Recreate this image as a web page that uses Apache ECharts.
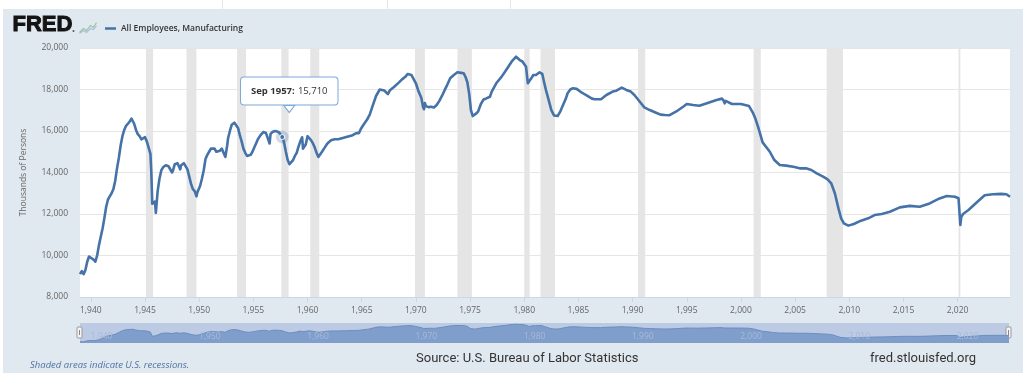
<!DOCTYPE html>
<html><head><meta charset="utf-8">
<script src="https://cdn.jsdelivr.net/npm/echarts@6/dist/echarts.min.js"></script>
<style>html,body{margin:0;padding:0;background:#fff}#c{width:1023px;height:373px}</style>
</head><body><div id="c"></div>
<script>
const seriesName = 'All Employees, Manufacturing';
const dates = [
'1939-01','1939-03','1939-05','1939-07','1939-09','1939-11','1940-01','1940-04','1940-06','1940-08','1940-10','1940-12',
'1941-02','1941-04','1941-06','1941-08','1941-10','1941-12','1942-02','1942-04','1942-06','1942-08','1942-10','1942-12',
'1943-02','1943-04','1943-06','1943-08','1943-10','1943-11','1944-01','1944-03','1944-05','1944-07','1944-09','1944-11',
'1945-01','1945-03','1945-05','1945-07','1945-08','1945-09','1945-10','1945-11','1945-12','1946-01','1946-02','1946-03',
'1946-05','1946-07','1946-09','1946-12','1947-03','1947-05','1947-07','1947-08','1947-10','1948-01','1948-03','1948-04',
'1948-05','1948-08','1948-10','1948-12','1949-02','1949-04','1949-06','1949-08','1949-10','1949-11','1949-12','1950-02',
'1950-04','1950-06','1950-08','1950-10','1950-12','1951-02','1951-04','1951-06','1951-08','1951-10','1951-12','1952-02',
'1952-04','1952-06','1952-07','1952-08','1952-09','1952-11','1953-01','1953-04','1953-06','1953-08','1953-10','1953-12',
'1954-02','1954-04','1954-06','1954-08','1954-10','1954-12','1955-02','1955-04','1955-06','1955-09','1955-12','1956-03',
'1956-05','1956-07','1956-08','1956-10','1957-01','1957-03','1957-05','1957-07','1957-09','1957-11','1958-01','1958-03',
'1958-05','1958-07','1958-09','1958-11','1959-01','1959-03','1959-05','1959-07','1959-08','1959-09','1959-11','1960-01',
'1960-03','1960-05','1960-07','1960-09','1960-11','1961-01','1961-03','1961-05','1961-08','1961-11','1962-03','1962-07',
'1962-11','1963-03','1963-07','1963-11','1964-03','1964-07','1964-10','1964-12','1965-03','1965-07','1965-10','1966-01',
'1966-05','1966-09','1966-11','1967-02','1967-06','1967-08','1967-10','1968-01','1968-06','1968-10','1969-01','1969-04',
'1969-06','1969-08','1969-10','1970-01','1970-04','1970-07','1970-09','1970-10','1970-11','1970-12','1971-03','1971-06',
'1971-09','1971-12','1972-03','1972-06','1972-09','1972-12','1973-03','1973-07','1973-11','1974-03','1974-06','1974-08',
'1974-10','1974-12','1975-02','1975-04','1975-06','1975-08','1975-10','1976-01','1976-04','1976-07','1976-09','1976-11',
'1977-01','1977-06','1977-12','1978-05','1978-11','1979-04','1979-06','1979-08','1979-11','1980-01','1980-03','1980-05',
'1980-07','1980-09','1980-11','1981-02','1981-06','1981-09','1981-11','1982-01','1982-04','1982-07','1982-10','1982-12',
'1983-02','1983-05','1983-08','1983-11','1984-01','1984-04','1984-07','1984-11','1985-03','1985-06','1985-11','1986-04',
'1986-07','1987-02','1987-08','1988-03','1988-07','1989-01','1989-06','1989-11','1990-03','1990-09','1991-02','1991-08',
'1992-03','1992-08','1993-01','1993-06','1994-01','1994-09','1995-01','1995-08','1996-03','1997-01','1997-10','1998-04',
'1998-06','1998-07','1998-08','1999-03','2000-01','2000-10','2001-02','2001-05','2001-08','2002-01','2002-09','2003-02',
'2003-08','2004-03','2004-11','2005-06','2006-01','2006-07','2007-01','2007-08','2008-01','2008-05','2008-09','2009-01',
'2009-04','2009-07','2009-12','2010-06','2011-02','2011-10','2012-05','2013-01','2013-10','2014-09','2015-08','2016-07',
'2017-06','2018-05','2019-01','2019-10','2020-02','2020-03','2020-04','2020-05','2020-07','2021-01','2021-07','2022-02',
'2022-07','2023-04','2024-01','2024-07','2024-11'
];
const values = [
9100,9250,9100,9300,9700,9950,9900,9800,9700,10000,10500,10900,
11300,11800,12350,12700,12850,13000,13200,13600,14200,14700,15300,15750,
16050,16250,16350,16450,16600,16620,16350,16050,15850,15750,15600,15650,
15700,15500,15200,14900,14000,12500,12450,12550,12600,12050,12000,13100,
13700,14100,14250,14350,14300,14250,14000,14100,14400,14450,14250,14150,
14350,14450,14400,14150,13800,13450,13200,13100,12850,13050,13050,13350,
13700,14100,14650,14850,15000,15150,15200,15150,15000,14950,15050,15150,
15200,14750,14700,15300,15650,16000,16300,16400,16350,16150,15800,15500,
15150,14950,14800,14750,14850,15000,15200,15400,15600,15800,15950,15900,
15850,15400,15850,15950,16000,16050,15950,15850,15710,15450,15000,14600,
14400,14450,14600,14800,14950,15250,15500,15700,15150,15100,15350,15750,
15650,15550,15400,15200,14950,14750,14800,15000,15200,15400,15550,15600,
15600,15650,15700,15750,15800,15900,15900,16100,16300,16550,16800,17200,
17700,18000,18060,17950,17780,17950,17900,18130,18330,18500,18600,18750,
18820,18700,18650,18300,17900,17600,17150,17050,17350,17200,17150,17170,
17130,17250,17450,17700,17980,18250,18540,18700,18830,18800,18780,18600,
18350,17800,17000,16720,16690,16850,16950,17300,17520,17570,17480,17650,
17900,18300,18620,18940,19340,19580,19560,19420,19350,19290,19100,18300,
18250,18550,18700,18700,18830,18750,18350,17980,17500,17010,16750,16700,
16720,16950,17250,17550,17820,18000,18060,18030,17900,17820,17690,17560,
17530,17530,17735,17900,17940,18090,17980,17900,17735,17410,17140,17010,
16880,16790,16770,16760,16930,17170,17300,17250,17220,17360,17490,17560,
17450,17330,17450,17300,17300,17200,16900,16600,16200,15450,15000,14600,
14360,14330,14280,14200,14200,14120,13960,13800,13670,13480,13000,12270,
11790,11550,11440,11520,11680,11790,11950,12000,12110,12320,12390,12350,
12510,12750,12870,12830,12760,12700,11470,11850,12000,12190,12430,12710,
12900,12950,12970,12950,12830
];
const recessionStarts = ['1945-02','1948-11','1953-07','1957-08','1960-04','1969-12','1973-11','1980-01','1981-07','1990-07','2001-03','2007-12','2020-02'];
const recessionEnds   = ['1945-10','1949-10','1954-05','1958-04','1961-02','1970-11','1975-03','1980-07','1982-11','1991-03','2001-11','2009-06','2020-04'];
const xTickYears = [1940,1945,1950,1955,1960,1965,1970,1975,1980,1985,1990,1995,2000,2005,2010,2015,2020];
const navYears = [1940,1950,1960,1970,1980,1990,2000,2010,2020];
const yMin = 8000, yMax = 20000, yStep = 2000;
const tipDate = '1957-09';

const MONTHS = ['Jan','Feb','Mar','Apr','May','Jun','Jul','Aug','Sep','Oct','Nov','Dec'];
function toYear(s){ const p = s.split('-').map(Number); return p[0] + (p[1]-1)/12; }
function fmtDate(s){ const p = s.split('-').map(Number); return MONTHS[p[1]-1] + ' ' + p[0]; }
const pts = dates.map((d,i) => [toYear(d), values[i]]);
const xMin = pts[0][0], xMax = pts[pts.length-1][0];
const tipIdx = dates.indexOf(tipDate);
const tipPt = pts[tipIdx];
const FONT = '"Open Sans", "DejaVu Sans", sans-serif';
const LINE = '#4572a7';

const chart = echarts.init(document.getElementById('c'), null, {renderer:'canvas'});
chart.setOption({
  animation: false,
  backgroundColor: '#e1e9f0',
  textStyle: {fontFamily: FONT},
  grid: [
    {left: 80, right: 13, top: 48, bottom: 76, show: true, backgroundColor: '#ffffff', borderWidth: 0},
    {left: 80, right: 14, top: 323, height: 20, show: true, backgroundColor: '#bccbe3', borderWidth: 0}
  ],
  legend: {
    data: [{name: seriesName, icon: 'rect'}],
    left: 100, top: 19, itemWidth: 11, itemHeight: 2.5, itemGap: 5,
    textStyle: {fontFamily: FONT, fontSize: 8.5, fontWeight: 600, color: '#333'}
  },
  xAxis: [
    {type: 'value', gridIndex: 0, min: xMin, max: xMax,
     axisLine: {show: true, lineStyle: {color: '#ccd6eb'}},
     axisTick: {show: true, customValues: xTickYears, length: 5, lineStyle: {color: '#ccd6eb'}},
     axisLabel: {customValues: xTickYears, color: '#666', fontSize: 8.5, fontFamily: FONT, margin: 9},
     splitLine: {show: false}},
    {type: 'value', gridIndex: 1, min: xMin, max: xMax, z: 6,
     axisLine: {show: false}, axisTick: {show: false},
     axisLabel: {customValues: navYears, inside: true, color: '#a7b9d8', fontSize: 8.5, fontFamily: FONT, align: 'left', margin: 2},
     splitLine: {show: false}}
  ],
  yAxis: [
    {type: 'value', gridIndex: 0, min: yMin, max: yMax, interval: yStep,
     axisLine: {show: false}, axisTick: {show: false},
     axisLabel: {color: '#666', fontSize: 8.5, fontFamily: FONT, margin: 12, padding: [0,0,8,0],
                 formatter: v => v.toLocaleString('en-US')},
     splitLine: {lineStyle: {color: '#e6e6e6'}},
     name: 'Thousands of Persons', nameLocation: 'middle', nameGap: 52,
     nameTextStyle: {color: '#666', fontSize: 8.5, fontFamily: FONT}},
    {type: 'value', gridIndex: 1, min: 8400, max: 20300, show: false}
  ],
  series: [
    {name: seriesName, type: 'line', xAxisIndex: 0, yAxisIndex: 0, data: pts,
     showSymbol: false, symbol: 'none', color: LINE, z: 3,
     lineStyle: {width: 2.6, color: LINE, join: 'round'},
     markArea: {silent: true, itemStyle: {color: '#e5e5e5'},
       data: recessionStarts.map((s,i) => [{xAxis: toYear(s)}, {xAxis: toYear(recessionEnds[i])}])},
     markPoint: {silent: true, label: {show: false},
       data: [
         {coord: tipPt, symbol: 'circle', symbolSize: 13, itemStyle: {color: 'rgba(69,114,167,0.25)'}},
         {coord: tipPt, symbol: 'circle', symbolSize: 5, itemStyle: {color: LINE, borderColor: '#fff', borderWidth: 1}},
         {coord: tipPt, symbol: 'triangle', symbolRotate: 180, symbolSize: [11, 7], symbolOffset: [7, -28],
          itemStyle: {color: '#fff', borderColor: '#7eaad8', borderWidth: 1}},
         {coord: tipPt, symbol: 'rect', symbolSize: 1, itemStyle: {color: 'rgba(0,0,0,0)'},
          label: {show: true, position: 'inside', offset: [7, -46],
            formatter: '{b|' + fmtDate(tipDate) + ':} {v|' + values[tipIdx].toLocaleString('en-US') + '}',
            backgroundColor: 'rgba(255,255,255,0.96)', borderColor: '#7eaad8', borderWidth: 1, borderRadius: 3,
            padding: [8, 10, 7, 10],
            rich: {b: {fontWeight: 'bold', color: '#333', fontSize: 9.5, fontFamily: FONT},
                   v: {color: '#333', fontSize: 9.5, fontFamily: FONT}}}}
       ]}},
    {name: 'nav', type: 'line', xAxisIndex: 1, yAxisIndex: 1, data: pts, silent: true,
     showSymbol: false, symbol: 'none', z: 2,
     lineStyle: {width: 1, color: '#6c8dc0'}, areaStyle: {color: '#809ecb', opacity: 1}}
  ],
  graphic: [
    {type: 'rect', left: 0, top: 0, shape: {width: 1023, height: 9}, style: {fill: '#fff'}},
    {type: 'rect', left: 0, top: 0, shape: {width: 3, height: 373}, style: {fill: '#fff'}},
    {type: 'line', shape: {x1: 222.5, y1: 0, x2: 222.5, y2: 9}, style: {stroke: '#e4e8ee', lineWidth: 1}},
    {type: 'line', shape: {x1: 387.5, y1: 0, x2: 387.5, y2: 9}, style: {stroke: '#e4e8ee', lineWidth: 1}},
    {type: 'line', shape: {x1: 510.5, y1: 0, x2: 510.5, y2: 9}, style: {stroke: '#e4e8ee', lineWidth: 1}},
    {type: 'text', left: 12, top: 13, style: {text: 'FRED', font: 'bold 22px "Liberation Sans", Arial, sans-serif', fill: '#141414', stroke: '#141414', lineWidth: 1}},
    {type: 'circle', shape: {cx: 73.5, cy: 31, r: 1}, style: {fill: '#555'}},
    {type: 'group', left: 77, top: 20, children: [
      {type: 'polyline', shape: {points: [[0,11],[4,7],[7,9],[11,4],[14,6],[17,1]]}, style: {stroke: '#9dc3a0', lineWidth: 1.2, fill: null}},
      {type: 'polyline', shape: {points: [[0,12],[4,9],[7,11],[11,7],[14,8],[17,4]]}, style: {stroke: '#a8bfdc', lineWidth: 1.2, fill: null}}
    ]},
    {type: 'rect', shape: {x: 77, y: 327, width: 5, height: 11, r: 1}, style: {fill: '#f5f5f5', stroke: '#999', lineWidth: 1}},
    {type: 'line', shape: {x1: 79.5, y1: 330, x2: 79.5, y2: 335}, style: {stroke: '#888', lineWidth: 1}},
    {type: 'rect', shape: {x: 1006, y: 327, width: 5, height: 11, r: 1}, style: {fill: '#f5f5f5', stroke: '#999', lineWidth: 1}},
    {type: 'line', shape: {x1: 1008.5, y1: 330, x2: 1008.5, y2: 335}, style: {stroke: '#888', lineWidth: 1}},
    {type: 'text', left: 30, top: 360, style: {text: 'Shaded areas indicate U.S. recessions.', font: 'italic 9.5px ' + FONT, fill: '#4f72a3'}},
    {type: 'text', left: 416, top: 352, style: {text: 'Source: U.S. Bureau of Labor Statistics', font: '13px "Liberation Sans Narrow", "Roboto", sans-serif', fill: '#333'}},
    {type: 'text', left: 870, top: 352, style: {text: 'fred.stlouisfed.org', font: '13px "Liberation Sans Narrow", "Roboto", sans-serif', fill: '#333'}}
  ]
});
</script></body></html>
